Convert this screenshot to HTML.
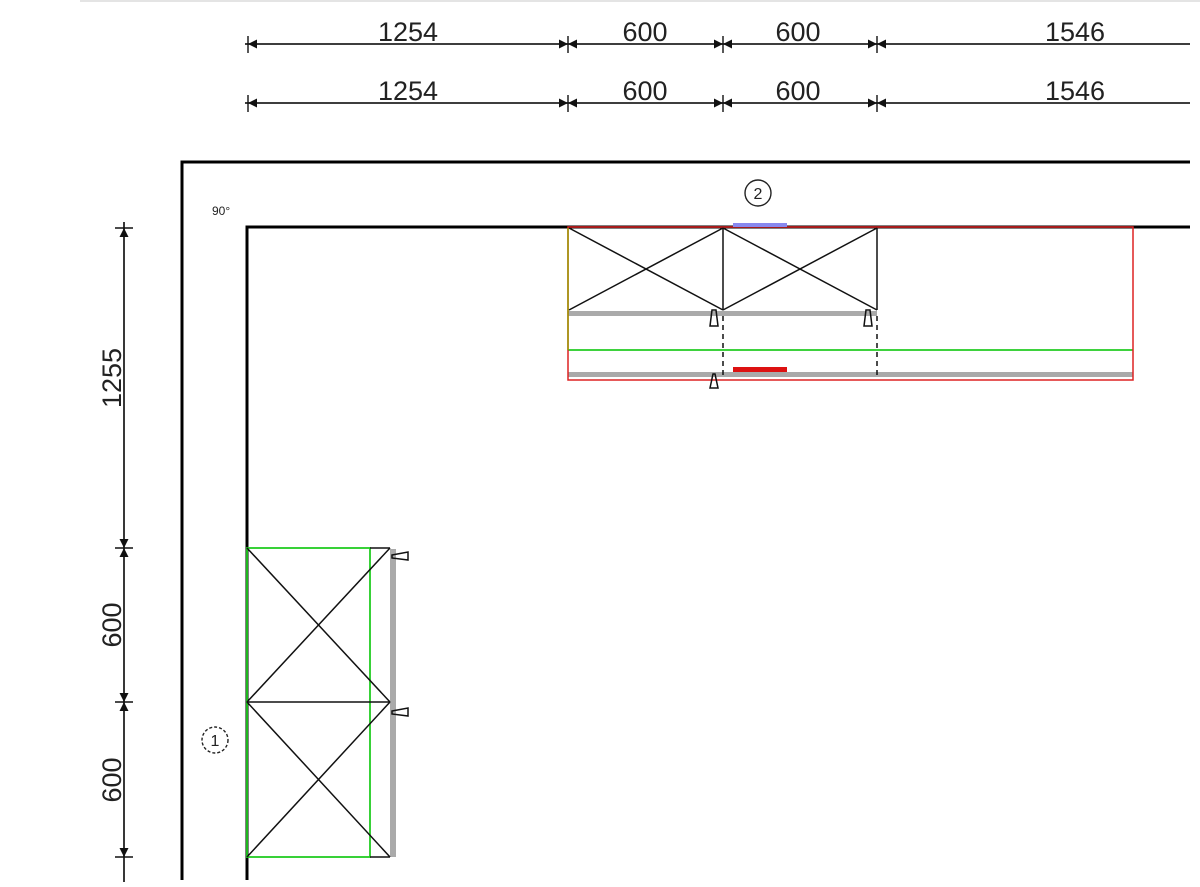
<!DOCTYPE html>
<html><head><meta charset="utf-8"><style>
html,body{margin:0;padding:0;background:#fff;}
svg{display:block;}
text{font-family:"Liberation Sans",sans-serif;fill:#222;}
</style></head><body>
<svg width="1200" height="887" viewBox="0 0 1200 887" xmlns="http://www.w3.org/2000/svg">
<defs>
<path id="ar" d="M0,0 L9,-4.5 L9,4.5 Z" fill="#111"/>
</defs>
<line x1="80" y1="1" x2="1200" y2="1" stroke="#e4e4e4" stroke-width="2"/>

<g stroke="#222" stroke-width="1.8">
<line x1="245" y1="44" x2="1190" y2="44"/>
<line x1="245" y1="103" x2="1190" y2="103"/>
</g>
<g stroke="#111" stroke-width="1.4">
<line x1="248" y1="36" x2="248" y2="53"/><line x1="568" y1="36" x2="568" y2="53"/><line x1="723" y1="36" x2="723" y2="53"/><line x1="877" y1="36" x2="877" y2="53"/>
<line x1="248" y1="95" x2="248" y2="112"/><line x1="568" y1="95" x2="568" y2="112"/><line x1="723" y1="95" x2="723" y2="112"/><line x1="877" y1="95" x2="877" y2="112"/>
</g>
<g>
<use href="#ar" x="248" y="44"/><use href="#ar" transform="translate(568,44) scale(-1,1)"/><use href="#ar" x="568" y="44"/>
<use href="#ar" transform="translate(723,44) scale(-1,1)"/><use href="#ar" x="723" y="44"/>
<use href="#ar" transform="translate(877,44) scale(-1,1)"/><use href="#ar" x="877" y="44"/>
<use href="#ar" x="248" y="103"/><use href="#ar" transform="translate(568,103) scale(-1,1)"/><use href="#ar" x="568" y="103"/>
<use href="#ar" transform="translate(723,103) scale(-1,1)"/><use href="#ar" x="723" y="103"/>
<use href="#ar" transform="translate(877,103) scale(-1,1)"/><use href="#ar" x="877" y="103"/>
</g>
<g font-size="27" text-anchor="middle">
<text x="408" y="41">1254</text><text x="645" y="41">600</text><text x="798" y="41">600</text><text x="1075" y="41">1546</text>
<text x="408" y="100">1254</text><text x="645" y="100">600</text><text x="798" y="100">600</text><text x="1075" y="100">1546</text>
</g>

<line x1="124" y1="222" x2="124" y2="882" stroke="#222" stroke-width="1.8"/>
<g stroke="#111" stroke-width="1.4">
<line x1="115" y1="228" x2="133" y2="228"/><line x1="115" y1="548" x2="133" y2="548"/><line x1="115" y1="702" x2="133" y2="702"/><line x1="115" y1="857" x2="133" y2="857"/>
</g>
<g>
<use href="#ar" transform="translate(124,228) rotate(90)"/>
<use href="#ar" transform="translate(124,548) rotate(-90)"/><use href="#ar" transform="translate(124,548) rotate(90)"/>
<use href="#ar" transform="translate(124,702) rotate(-90)"/><use href="#ar" transform="translate(124,702) rotate(90)"/>
<use href="#ar" transform="translate(124,857) rotate(-90)"/>
</g>
<g font-size="27" text-anchor="middle">
<text transform="translate(121,378) rotate(-90)">1255</text>
<text transform="translate(121,625) rotate(-90)">600</text>
<text transform="translate(121,780) rotate(-90)">600</text>
</g>

<g stroke="#000" stroke-width="3" fill="none">
<polyline points="182,880 182,162 1190,162"/>
<polyline points="247,880 247,227 1190,227"/>
</g>
<text x="212" y="215" font-size="12">90°</text>
<circle cx="758" cy="193" r="13" fill="none" stroke="#222" stroke-width="1.4"/>
<text x="758" y="199" font-size="16" text-anchor="middle">2</text>
<circle cx="215" cy="740" r="13" fill="none" stroke="#222" stroke-width="1.4" stroke-dasharray="3,2"/>
<text x="215" y="746" font-size="16" text-anchor="middle">1</text>

<rect x="568" y="311" width="309" height="5" fill="#aaa"/>
<rect x="568" y="372" width="565" height="5" fill="#aaa"/>
<line x1="568" y1="350" x2="1133" y2="350" stroke="#22cc22" stroke-width="1.8"/>
<rect x="568" y="227" width="565" height="153" fill="none" stroke="#dd2222" stroke-width="1.5"/>
<line x1="568" y1="228" x2="568" y2="350" stroke="#999900" stroke-width="1.5"/>
<g stroke="#111" stroke-width="1.5" fill="none">
<line x1="723" y1="228" x2="723" y2="310"/><line x1="877" y1="228" x2="877" y2="310"/>
<line x1="569" y1="228" x2="723" y2="310"/><line x1="569" y1="310" x2="723" y2="228"/>
<line x1="723" y1="228" x2="877" y2="310"/><line x1="723" y1="310" x2="877" y2="228"/>
<line x1="723" y1="316" x2="723" y2="378" stroke-dasharray="5,4"/>
<line x1="877" y1="316" x2="877" y2="378" stroke-dasharray="5,4"/>
<path d="M712,310 L710,326 L718,326 L716,310 Z"/>
<path d="M866,310 L864,326 L872,326 L870,310 Z"/>
<path d="M713,374 L710,388 L718,388 L715,374 Z"/>
</g>
<rect x="733" y="223" width="54" height="4" fill="#8888ee"/>
<rect x="733" y="367" width="54" height="5" fill="#dd1111"/>

<rect x="390" y="549" width="6" height="308" fill="#aaa"/>
<rect x="247" y="548" width="123" height="309" fill="none" stroke="#22cc22" stroke-width="1.8"/>
<g stroke="#111" stroke-width="1.5" fill="none">
<line x1="370" y1="548" x2="390" y2="548"/><line x1="370" y1="857" x2="390" y2="857"/>
<line x1="247" y1="702" x2="390" y2="702"/>
<line x1="247" y1="548" x2="390" y2="702"/><line x1="247" y1="702" x2="390" y2="548"/>
<line x1="247" y1="702" x2="390" y2="857"/><line x1="247" y1="857" x2="390" y2="702"/>
<path d="M392,555 L408,552 L408,560 L392,558 Z"/>
<path d="M392,711 L408,708 L408,716 L392,714 Z"/>
</g>
</svg>
</body></html>
